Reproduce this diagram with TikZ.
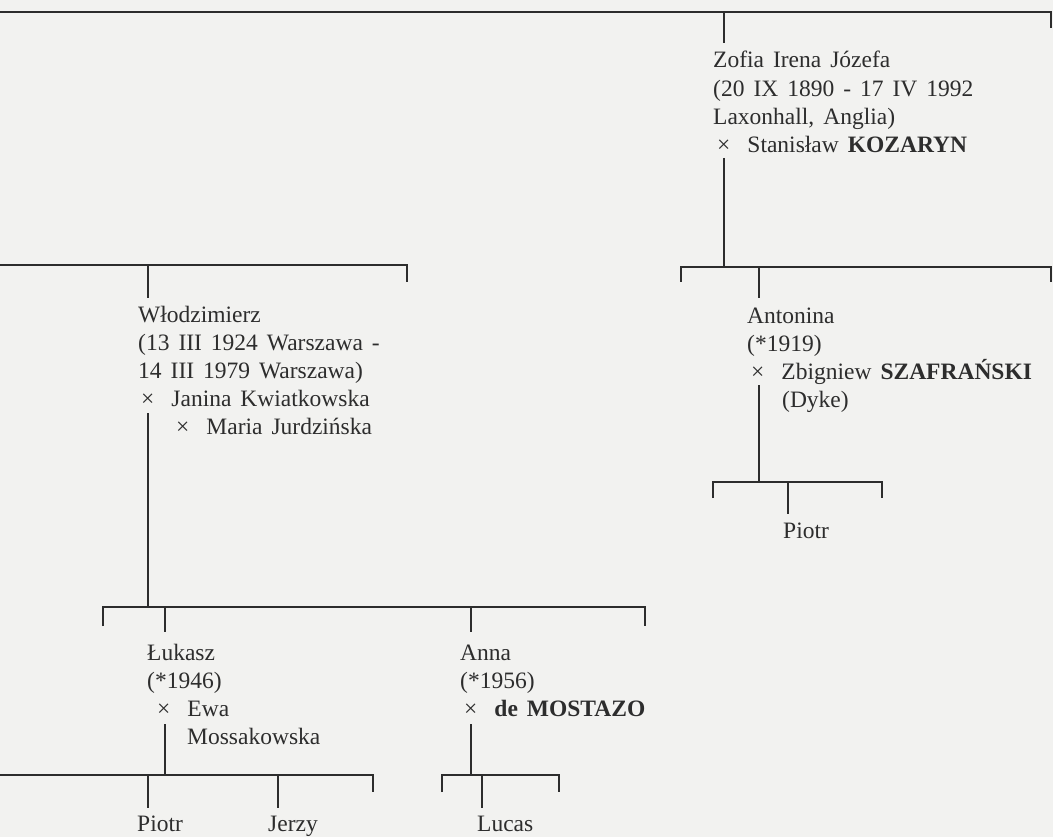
\documentclass[tikz,border=0pt]{standalone}
\usepackage{fontspec}
\setmainfont{Liberation Serif}[WordSpace=1.53]
\definecolor{bgc}{RGB}{242,242,240}
\definecolor{ink}{RGB}{45,45,45}
\newcommand\mx{×\kern 17pt}
\newcommand\ind[1]{\kern #1}
\newcommand\pfont{\fontsize{23.5}{28.2}\selectfont}
\tikzset{
  ln/.style={draw=ink, line width=1.6pt},
  person/.style={anchor=base west, inner sep=0pt, align=left, text=ink, font=\pfont},
}
\begin{document}
\begin{tikzpicture}[x=1pt,y=-1pt]
\fill[bgc] (0,0) rectangle (1053,837);
\useasboundingbox (0,0) rectangle (1053,837);

% ---- top generation (node anchors are at the baseline of the last line)
\coordinate (t0) at (0,12);
\coordinate (t1) at (1051,12);
\coordinate (t1d) at (1051,28);
\draw[ln] (t0) -- (t1) -- (t1d);
\coordinate (zA) at (724,12);
\coordinate (zB) at (724,43);
\draw[ln] (zA) -- (zB);

\node[person] (zofia) at (713,152.6) {Zofia Irena Józefa\\{}(20 IX 1890 - 17 IV 1992\\{}Laxonhall, Anglia)\\{}\ind{4pt}\mx Stanisław \textbf{KOZARYN}};

\coordinate (zC) at (724,158);
\coordinate (zD) at (724,267);
\draw[ln] (zC) -- (zD);

% ---- Zofia's children bracket
\coordinate (b2L) at (681,282);
\coordinate (b2La) at (681,267);
\coordinate (b2Ra) at (1051,267);
\coordinate (b2R) at (1051,282);
\draw[ln] (b2L) -- (b2La) -- (b2Ra) -- (b2R);
\coordinate (aA) at (759,267);
\coordinate (aB) at (759,298);
\draw[ln] (aA) -- (aB);

\node[person] (antonina) at (747,407.6) {Antonina\\{}(*1919)\\{}\ind{4pt}\mx Zbigniew \textbf{SZAFRAŃSKI}\\{}\ind{35pt}(Dyke)};

\coordinate (aC) at (759,385);
\coordinate (aD) at (759,482);
\draw[ln] (aC) -- (aD);

\coordinate (b3L) at (713,498);
\coordinate (b3La) at (713,482);
\coordinate (b3Ra) at (882,482);
\coordinate (b3R) at (882,498);
\draw[ln] (b3L) -- (b3La) -- (b3Ra) -- (b3R);
\coordinate (pA) at (788,482);
\coordinate (pB) at (788,514);
\draw[ln] (pA) -- (pB);
\node[person] (piotrA) at (783,538) {Piotr};

% ---- Wlodzimierz bracket
\coordinate (w0) at (0,265);
\coordinate (w1) at (407,265);
\coordinate (w1d) at (407,282);
\draw[ln] (w0) -- (w1) -- (w1d);
\coordinate (wA) at (148,265);
\coordinate (wB) at (148,298);
\draw[ln] (wA) -- (wB);

\node[person] (wlodzimierz) at (138,434.8) {Włodzimierz\\{}(13 III 1924 Warszawa -\\{}14 III 1979 Warszawa)\\{}\ind{3pt}\mx Janina Kwiatkowska\\{}\ind{38pt}\mx Maria Jurdzińska};

\coordinate (wC) at (148,413);
\coordinate (wD) at (148,607);
\draw[ln] (wC) -- (wD);

% ---- Wlodzimierz's children bracket
\coordinate (b4L) at (103,626);
\coordinate (b4La) at (103,607);
\coordinate (b4Ra) at (645,607);
\coordinate (b4R) at (645,626);
\draw[ln] (b4L) -- (b4La) -- (b4Ra) -- (b4R);
\coordinate (lA) at (165,607);
\coordinate (lB) at (165,632);
\draw[ln] (lA) -- (lB);
\coordinate (nA) at (471,607);
\coordinate (nB) at (471,632);
\draw[ln] (nA) -- (nB);

\node[person] (lukasz) at (147,744.6) {Łukasz\\{}(*1946)\\{}\ind{10pt}\mx Ewa\\{}\ind{40pt}Mossakowska};
\node[person] (anna) at (460,716.4) {Anna\\{}(*1956)\\{}\ind{4pt}\mx \textbf{de MOSTAZO}};

\coordinate (lC) at (165,724);
\coordinate (lD) at (165,775);
\draw[ln] (lC) -- (lD);
\coordinate (nC) at (471,724);
\coordinate (nD) at (471,775);
\draw[ln] (nC) -- (nD);

% ---- grandchildren
\coordinate (b5L) at (0,775);
\coordinate (b5Ra) at (373,775);
\coordinate (b5R) at (373,792);
\draw[ln] (b5L) -- (b5Ra) -- (b5R);
\coordinate (gpA) at (148,775);
\coordinate (gpB) at (148,808);
\draw[ln] (gpA) -- (gpB);
\coordinate (gjA) at (278,775);
\coordinate (gjB) at (278,808);
\draw[ln] (gjA) -- (gjB);
\node[person] (piotrB) at (137,831) {Piotr};
\node[person] (jerzy) at (268,831) {Jerzy};

\coordinate (b6L) at (442,792);
\coordinate (b6La) at (442,775);
\coordinate (b6Ra) at (559,775);
\coordinate (b6R) at (559,792);
\draw[ln] (b6L) -- (b6La) -- (b6Ra) -- (b6R);
\coordinate (gcA) at (482,775);
\coordinate (gcB) at (482,808);
\draw[ln] (gcA) -- (gcB);
\node[person] (lucas) at (477,831) {Lucas};
\end{tikzpicture}
\end{document}
